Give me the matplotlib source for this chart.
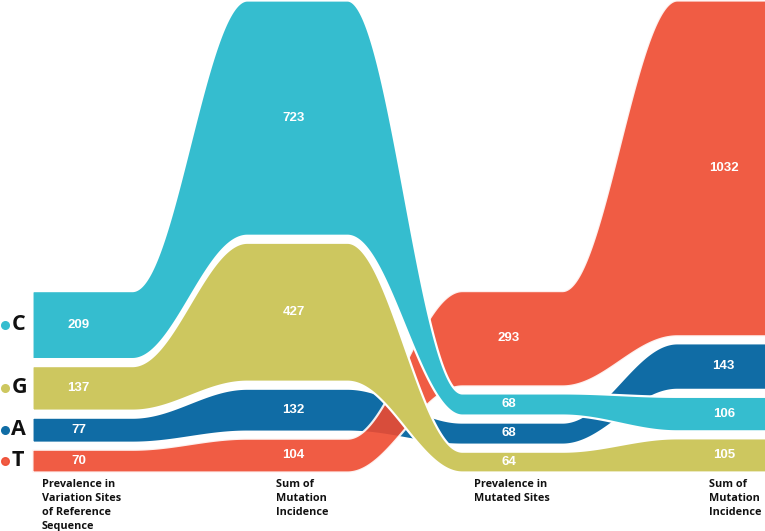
import numpy as np
import matplotlib
matplotlib.use("Agg")
import matplotlib.pyplot as plt

categories = ["C", "G", "A", "T"]
values = {
    "C": [209, 723, 68, 106],
    "G": [137, 427, 64, 105],
    "A": [77, 132, 68, 143],
    "T": [70, 104, 293, 1032],
}
col_labels = [
    "Prevalence in\nVariation Sites\nof Reference\nSequence",
    "Sum of\nMutation\nIncidence",
    "Prevalence in\nMutated Sites",
    "Sum of\nMutation\nIncidence",
]
colors = {"C": "#35BDCF", "G": "#CDC75F", "A": "#106CA5", "T": "#EF4A30"}
alphas = {"C": 1.0, "G": 1.0, "A": 1.0, "T": 0.9}
draw_order = ["A", "T", "G", "C"]

GAP = 21.5     # white gap between stacked bands (value units)
HALF = 0.2325  # half width of the flat part at each column


def smooth(xs, pts):
    out = np.empty_like(xs)
    for i, x in enumerate(xs):
        j = int(np.clip(np.floor(x), 0, len(pts) - 2))
        t = np.clip((x - (j + HALF)) / (1 - 2 * HALF), 0, 1)
        out[i] = pts[j] + (pts[j + 1] - pts[j]) * (1 - np.cos(np.pi * t)) / 2
    return out


n_cols = len(col_labels)
bottoms = {c: np.zeros(n_cols) for c in categories}
for j in range(n_cols):
    order = sorted(categories, key=lambda c: -values[c][j])
    y = 0
    for c in reversed(order):
        bottoms[c][j] = y
        y += values[c][j] + GAP

fig = plt.figure(figsize=(7.65, 5.31), dpi=100)
ax = fig.add_axes([0, 0, 1, 1])
ax.set_xlim(-0.381, 3.177)
ax.set_ylim(-181.3, 1450.5)
ax.axis("off")

xs = np.linspace(-HALF, n_cols - 1 + HALF, 1500)
for c in draw_order:
    lo = np.array(bottoms[c])
    hi = lo + np.array(values[c])
    ax.fill_between(xs, smooth(xs, lo), smooth(xs, hi), facecolor=colors[c],
                    alpha=alphas[c], edgecolor="white", linewidth=1.6)

for c in categories:
    for j in range(n_cols):
        ax.text(j - 0.015, bottoms[c][j] + values[c][j] / 2, str(values[c][j]),
                ha="center", va="center", color="white", fontsize=9.5,
                fontweight="bold", family="Liberation Sans")

label_x = [-0.186, 0.902, 1.823, 2.916]
for x, lab in zip(label_x, col_labels):
    ax.text(x, -22, lab, ha="left", va="top", fontsize=7.8, fontweight="bold",
            family="Open Sans", color="#111111", linespacing=1.35)

# legend on the left, aligned to the first column
for c in categories:
    yc = bottoms[c][0] + values[c][0] / 2
    ax.scatter([-0.358], [yc], s=30, color=colors[c], alpha=alphas[c], clip_on=False)
    ax.text(-0.328, yc, c, ha="left", va="center", fontsize=15.5,
            fontweight="bold", family="Open Sans", color="#111111")

plt.savefig("out.png", dpi=100)
